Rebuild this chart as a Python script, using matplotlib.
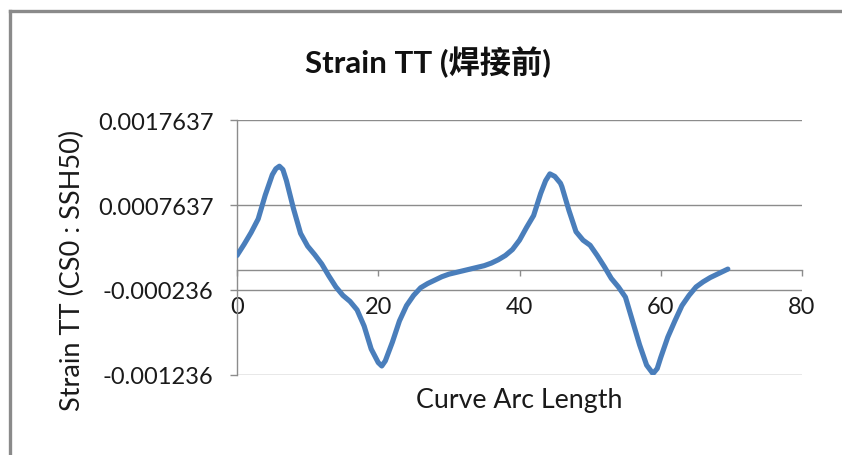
import matplotlib
matplotlib.use("Agg")
import matplotlib.pyplot as plt
from matplotlib.lines import Line2D

plt.rcParams['font.family'] = ['Lato', 'Noto Sans CJK SC', 'DejaVu Sans']

# Strain along the curve
arc_length = [0, 1, 2, 3, 4, 5, 5.5, 6.0, 6.5, 7, 8, 9, 10, 11, 12, 13, 14, 15, 16,
              17, 18, 19, 20, 20.5, 21, 22, 23, 24, 25, 26, 27, 28, 29, 30, 31, 32,
              33, 34, 35, 36, 37, 38, 39, 40, 41, 42, 43, 43.7, 44.3, 45, 45.8, 46,
              47, 48, 49, 50, 51, 52, 53, 54, 55, 56, 57, 58, 58.9, 59.5, 60, 61,
              62, 63, 64, 65, 66, 67, 68, 69, 69.5]
strain_tt = [0.00017, 0.00030, 0.00044, 0.00060, 0.00088, 0.00112, 0.00119, 0.00122,
             0.00118, 0.00105, 0.00072, 0.00043, 0.00028, 0.00018, 0.00007, -0.00007,
             -0.00020, -0.00030, -0.00037, -0.00047, -0.00066, -0.00093, -0.00109,
             -0.00113, -0.00107, -0.00085, -0.00060, -0.00042, -0.00030, -0.00021,
             -0.00016, -0.00012, -0.00008, -0.00005, -0.00003, -0.00001, 0.00001,
             0.00003, 0.00005, 0.00008, 0.00012, 0.00017, 0.00024, 0.00035, 0.00050,
             0.00064, 0.00090, 0.00105, 0.00113, 0.00110, 0.00102, 0.00098, 0.00070,
             0.00045, 0.00035, 0.00029, 0.00017, 0.00004, -0.00010, -0.00020,
             -0.00032, -0.00060, -0.00088, -0.00112, -0.00122, -0.00116, -0.00103,
             -0.00079, -0.00060, -0.00042, -0.00030, -0.00020, -0.00014, -0.00009,
             -0.00005, -0.00001, 0.00001]

y_ticks = [-0.001236, -0.000236, 0.0007637, 0.0017637]
y_tick_labels = ['-0.001236', '-0.000236', '0.0007637', '0.0017637']
x_ticks = [0, 20, 40, 60, 80]

title = 'Strain TT (焊接前)'
x_label = 'Curve Arc Length'
y_label = 'Strain TT (CS0 : SSH50)'

axis_grey = '#8c8c8c'
line_blue = '#4a7ebb'
text_color = '#1a1a1a'

W, H = 842, 456
fig = plt.figure(figsize=(W / 100, H / 100), dpi=100)
fig.patch.set_facecolor('white')
ax = fig.add_axes([237 / W, 1 - 376 / H, (802 - 237) / W, (376 - 121) / H])

ax.plot(arc_length, strain_tt, color=line_blue, lw=3.7,
        solid_capstyle='round', solid_joinstyle='round', zorder=3)

ax.set_xlim(0, 80)
ax.set_ylim(y_ticks[0], y_ticks[-1])

ax.set_yticks(y_ticks)
ax.set_yticklabels(y_tick_labels)
ax.set_xticks(x_ticks)
ax.set_xticklabels([str(v) for v in x_ticks])

ax.grid(axis='y', color=axis_grey, lw=1.0)
ax.set_axisbelow(True)

for side in ('top', 'right'):
    ax.spines[side].set_visible(False)
ax.spines['bottom'].set_position(('data', 0))
for side in ('bottom', 'left'):
    ax.spines[side].set_color(axis_grey)
    ax.spines[side].set_linewidth(1.0)

ax.tick_params(axis='y', direction='out', length=5, width=1.0, color=axis_grey,
               labelsize=17, labelcolor=text_color, pad=12)
ax.tick_params(axis='x', direction='out', length=4.5, width=1.0, color=axis_grey,
               labelsize=17, labelcolor=text_color, pad=14)

# Chart title centred over the whole chart area
fig.text(428 / W, 1 - 62 / H, title, fontsize=22.5, fontweight='bold',
         color='#111111', ha='center', va='center')

ax.set_ylabel(y_label, fontsize=19.5, color=text_color)
ax.yaxis.set_label_coords((72 - 237) / 565, (376 - 270) / 255)
ax.set_xlabel(x_label, fontsize=19.3, color=text_color)
ax.xaxis.set_label_coords((519 - 237) / 565, (376 - 401) / 255)
ax.xaxis.label.set_va('center')
ax.yaxis.label.set_va('center')

# Chart area border (left and top edges)
border = dict(transform=fig.transFigure, color='#8a8a8a', lw=2.4,
              solid_capstyle='projecting')
fig.add_artist(Line2D([9.5 / W, 9.5 / W], [0, 1 - 11.5 / H], **border))
fig.add_artist(Line2D([9.5 / W, 1], [1 - 11.5 / H, 1 - 11.5 / H], **border))

fig.savefig('out.png', dpi=100, facecolor='white')
